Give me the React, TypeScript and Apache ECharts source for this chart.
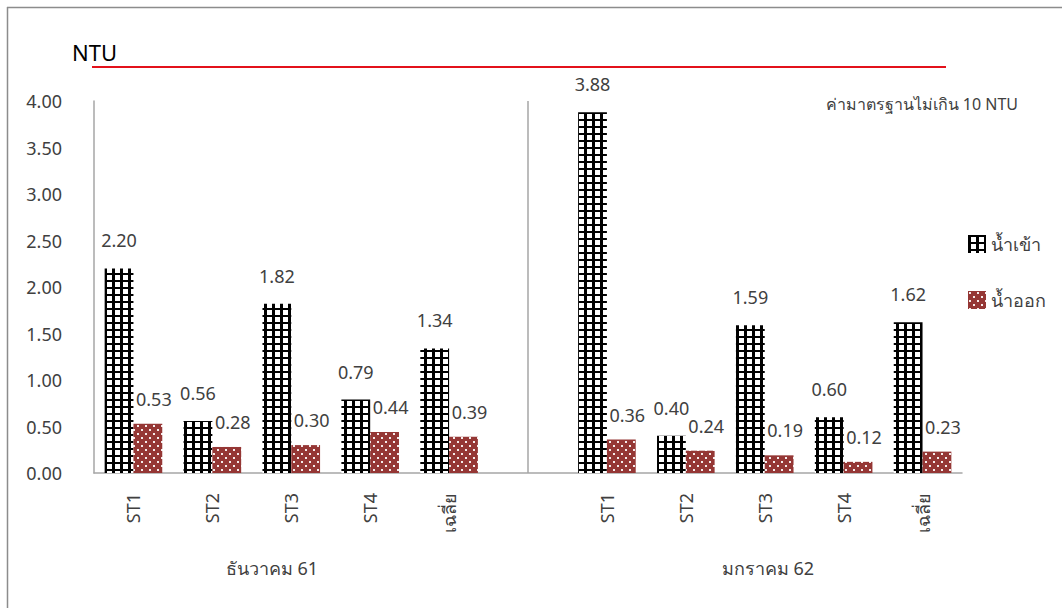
import React, { useEffect, useRef } from "react";
import * as echarts from "echarts";

const categories = ["ST1", "ST2", "ST3", "ST4", "เฉลี่ย", "", "ST1", "ST2", "ST3", "ST4", "เฉลี่ย"];
const seriesNames = ["น้ำเข้า", "น้ำออก"];
const inflowDec = [2.2, 0.56, 1.82, 0.79, 1.34];
const inflowJan = [3.88, 0.4, 1.59, 0.6, 1.62];
const outflowDec = [0.53, 0.28, 0.3, 0.44, 0.39];
const outflowJan = [0.36, 0.24, 0.19, 0.12, 0.23];
const groupLabels = ["ธันวาคม 61", "มกราคม 62"];
const groupDividerIndex = 5;
const unitLabel = "NTU";
const standardNote = "ค่ามาตรฐานไม่เกิน 10 NTU";
const yMin = 0;
const yMax = 4;
const yInterval = 0.5;

const FONT = "'Noto Sans', 'Open Sans', sans-serif";
const TEXT = "#404040";

function hatchPattern(): HTMLCanvasElement {
  const c = document.createElement("canvas");
  c.width = 8;
  c.height = 7;
  const ctx = c.getContext("2d")!;
  ctx.fillStyle = "#ffffff";
  ctx.fillRect(0, 0, 8, 7);
  ctx.fillStyle = "#000000";
  ctx.fillRect(0, 0, 8, 2);
  ctx.fillRect(0, 0, 3, 7);
  return c;
}

function dotPattern(): HTMLCanvasElement {
  const c = document.createElement("canvas");
  c.width = 8;
  c.height = 8;
  const ctx = c.getContext("2d")!;
  ctx.fillStyle = "#953735";
  ctx.fillRect(0, 0, 8, 8);
  ctx.fillStyle = "#f6ecec";
  ctx.fillRect(1, 1, 2, 2);
  ctx.fillRect(5, 5, 2, 2);
  return c;
}

export default function App() {
  const ref = useRef<HTMLDivElement>(null);

  useEffect(() => {
    if (!ref.current) return;
    const chart = echarts.init(ref.current, null, { renderer: "svg" });
    const inflow = [...inflowDec, null, ...inflowJan];
    const outflow = [...outflowDec, null, ...outflowJan];
    const fmt = (p: any) => (p.value == null ? "" : Number(p.value).toFixed(2));

    chart.setOption({
      animation: false,
      textStyle: { fontFamily: FONT },
      grid: { left: 94, right: 100, top: 101, bottom: 135, containLabel: false },
      legend: {
        orient: "vertical",
        left: 963,
        top: 230,
        itemWidth: 18,
        itemHeight: 18,
        itemGap: 38,
        icon: "rect",
        textStyle: { fontSize: 18, color: TEXT, fontFamily: FONT },
        data: seriesNames,
      },
      xAxis: {
        type: "category",
        data: categories,
        axisLine: { show: true, lineStyle: { color: "#a6a6a6", width: 1.5 } },
        axisTick: { show: false },
        axisLabel: {
          rotate: 90,
          margin: 20,
          fontSize: 18,
          color: TEXT,
          interval: 0,
          fontFamily: FONT,
        },
        splitLine: { show: false },
      },
      yAxis: {
        type: "value",
        min: yMin,
        max: yMax,
        interval: yInterval,
        axisLine: { show: true, lineStyle: { color: "#a6a6a6", width: 1.5 } },
        axisTick: { show: false },
        splitLine: { show: false },
        axisLabel: {
          fontSize: 18,
          color: TEXT,
          margin: 32,
          fontFamily: FONT,
          formatter: (v: number) => v.toFixed(2),
        },
      },
      series: [
        {
          name: seriesNames[0],
          type: "bar",
          data: inflow,
          barGap: "0%",
          barCategoryGap: "27%",
          itemStyle: { color: { image: hatchPattern(), repeat: "repeat" } },
          label: {
            show: true,
            position: "top",
            distance: 19,
            fontSize: 18,
            color: TEXT,
            fontFamily: FONT,
            formatter: fmt,
          },
        },
        {
          name: seriesNames[1],
          type: "bar",
          data: outflow,
          barGap: "0%",
          barCategoryGap: "27%",
          itemStyle: { color: { image: dotPattern(), repeat: "repeat" } },
          label: {
            show: true,
            position: "top",
            distance: 16,
            offset: [6, 0],
            fontSize: 18,
            color: TEXT,
            fontFamily: FONT,
            formatter: fmt,
          },
        },
        {
          name: "divider",
          type: "line",
          data: [],
          silent: true,
          markLine: {
            silent: true,
            symbol: ["none", "none"],
            label: { show: false },
            lineStyle: { color: "#a6a6a6", width: 1.5, type: "solid" },
            data: [{ xAxis: groupDividerIndex }],
          },
        },
      ],
      graphic: [
        {
          type: "line",
          shape: { x1: 7.5, y1: 7, x2: 7.5, y2: 608 },
          style: { stroke: "#8c8c8c", lineWidth: 1.5 },
        },
        {
          type: "line",
          shape: { x1: 7, y1: 7.5, x2: 1062, y2: 7.5 },
          style: { stroke: "#8c8c8c", lineWidth: 1.5 },
        },
        {
          type: "text",
          x: 72,
          y: 52,
          style: { text: unitLabel, fontSize: 22, fill: "#000000", fontFamily: FONT, verticalAlign: "middle" },
        },
        {
          type: "line",
          shape: { x1: 92, y1: 67, x2: 946, y2: 67 },
          style: { stroke: "#e3111b", lineWidth: 2 },
        },
        {
          type: "text",
          x: 1018,
          y: 104,
          style: { text: standardNote, fontSize: 16, fill: TEXT, fontFamily: FONT, align: "right", verticalAlign: "middle" },
        },
        {
          type: "text",
          x: 272,
          y: 568,
          style: { text: groupLabels[0], fontSize: 18, fill: TEXT, fontFamily: FONT, align: "center", verticalAlign: "middle" },
        },
        {
          type: "text",
          x: 768,
          y: 568,
          style: { text: groupLabels[1], fontSize: 18, fill: TEXT, fontFamily: FONT, align: "center", verticalAlign: "middle" },
        },
      ],
    });
    return () => chart.dispose();
  }, []);

  return <div ref={ref} style={{ position: "absolute", left: 0, top: 0, width: 1062, height: 608 }} />;
}
